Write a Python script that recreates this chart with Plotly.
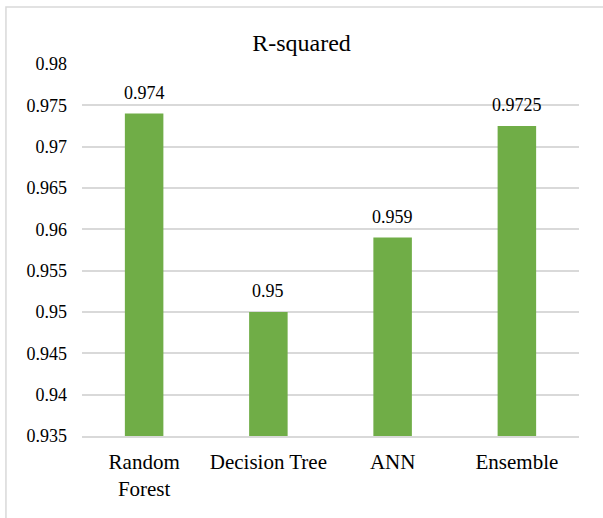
import plotly.graph_objects as go

# R-squared score of each model
models = ["Random<br>Forest", "Decision Tree", "ANN", "Ensemble"]
r2_scores = [0.974, 0.95, 0.959, 0.9725]
r2_labels = ["0.974", "0.95", "0.959", "0.9725"]

tick_values = [0.935, 0.94, 0.945, 0.95, 0.955, 0.96, 0.965, 0.97, 0.975, 0.98]
tick_labels = ["0.935", "0.94", "0.945", "0.95", "0.955", "0.96", "0.965", "0.97", "0.975", "0.98"]

FONT = "Liberation Serif"
GREEN = "#70AD47"
GRID = "#D9D9D9"

fig = go.Figure()
fig.add_trace(go.Bar(
    x=models,
    y=r2_scores,
    marker=dict(color=GREEN, line=dict(width=0)),
    width=0.31,
    hoverinfo="x+y",
))

# value labels above each bar
for m, v, t in zip(models, r2_scores, r2_labels):
    fig.add_annotation(
        x=m, y=v, text=t, showarrow=False,
        yanchor="bottom", yshift=9,
        font=dict(family=FONT, size=18, color="#000000"),
    )

# light frame around the whole chart
fig.add_shape(
    type="rect", xref="paper", yref="paper",
    x0=-0.153, x1=1.2, y0=-0.4, y1=1.153,
    line=dict(color=GRID, width=1.5), fillcolor="rgba(0,0,0,0)",
    layer="below",
)

fig.update_layout(
    width=603, height=518,
    margin=dict(l=82, r=24, t=64, b=82),
    paper_bgcolor="white", plot_bgcolor="white",
    showlegend=False,
    title=dict(
        text="R-squared", x=0.5, xanchor="center",
        y=1 - 43 / 518, yanchor="middle", yref="container",
        font=dict(family=FONT, size=24, color="#000000"),
    ),
    font=dict(family=FONT, color="#000000"),
    xaxis=dict(
        showgrid=False, showline=True, linecolor=GRID, linewidth=1.5,
        ticks="", tickfont=dict(family=FONT, size=21, color="#000000"),
        ticklabelstandoff=6,
    ),
    yaxis=dict(
        range=[0.935, 0.98],
        tickvals=tick_values, ticktext=tick_labels,
        showgrid=True, gridcolor=GRID, gridwidth=1.5,
        zeroline=False, showline=False, ticks="",
        tickfont=dict(family=FONT, size=18, color="#000000"),
        ticklabelstandoff=14,
    ),
)

fig.write_html("out.html")
